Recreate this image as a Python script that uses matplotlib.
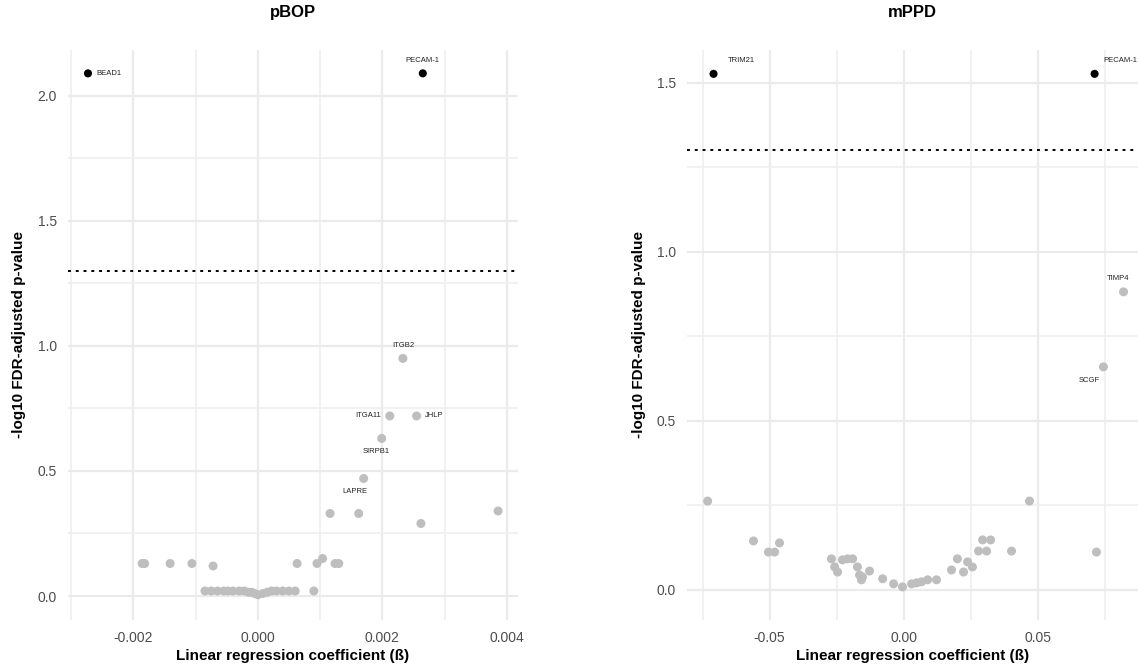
import numpy as np
import matplotlib.pyplot as plt

plt.rcParams['font.family'] = ['Liberation Sans', 'DejaVu Sans']

# pBOP panel
pbop_beta = [-0.00273, 0.00265,
             0.00233, 0.00212, 0.00255, 0.00199, 0.00170,
             0.00116, 0.00162, 0.00262, 0.00386,
             -0.00186, -0.00182, -0.00141, -0.00106, -0.00072, 0.00063, 0.00095,
             0.00104, 0.00124, 0.00130,
             -0.00085, -0.00075, -0.00065, -0.00055, -0.00048, -0.00040, -0.00030,
             -0.00022, -0.00015, -0.00010, -0.00005, 0.00000, 0.00008, 0.00015,
             0.00022, 0.00030, 0.00040, 0.00050, 0.00060, 0.00090]
pbop_logp = [2.09, 2.09,
             0.95, 0.72, 0.72, 0.63, 0.47,
             0.33, 0.33, 0.29, 0.34,
             0.13, 0.13, 0.13, 0.13, 0.12, 0.13, 0.13,
             0.15, 0.13, 0.13,
             0.02, 0.02, 0.02, 0.02, 0.02, 0.02, 0.02,
             0.02, 0.015, 0.015, 0.01, 0.005, 0.01, 0.015,
             0.02, 0.02, 0.02, 0.02, 0.02, 0.02]
pbop_labels = {0: 'BEAD1', 1: 'PECAM-1', 2: 'ITGB2', 3: 'ITGA11',
               4: 'JHLP', 5: 'SIRPB1', 6: 'LAPRE'}

# mPPD panel
mppd_beta = [-0.0709, 0.0713, 0.0821, 0.0746,
             -0.0731, -0.0560, -0.0504, -0.0481, -0.0463, -0.0269, -0.0257,
             -0.0246, -0.0228, -0.0209, -0.0190, -0.0172, -0.0164, -0.0157,
             -0.0153, -0.0127, -0.0078, -0.0037, -0.0004, 0.0030, 0.0049,
             0.0067, 0.0090, 0.0123, 0.0179, 0.0201, 0.0224, 0.0239, 0.0257,
             0.0280, 0.0310, 0.0295, 0.0325, 0.0403, 0.0470, 0.0720]
mppd_logp = [1.527, 1.527, 0.882, 0.660,
             0.263, 0.145, 0.112, 0.112, 0.139, 0.092, 0.068,
             0.053, 0.089, 0.092, 0.092, 0.068, 0.044, 0.030,
             0.038, 0.056, 0.033, 0.018, 0.009, 0.018, 0.021,
             0.024, 0.030, 0.030, 0.059, 0.092, 0.053, 0.083, 0.068,
             0.115, 0.115, 0.148, 0.148, 0.115, 0.263, 0.112]
mppd_labels = {0: 'TRIM21', 1: 'PECAM-1', 2: 'TIMP4', 3: 'SCGF'}

threshold = -np.log10(0.05)

label_offsets_pbop = {0: (6, 0, 'left', 'center'), 1: (0, 7, 'center', 'bottom'),
                      2: (0, 7, 'center', 'bottom'), 3: (-6, 0, 'right', 'center'),
                      4: (6, 0, 'left', 'center'), 5: (-4, -7, 'center', 'top'),
                      6: (-6, -7, 'center', 'top')}
label_offsets_mppd = {0: (10, 7, 'left', 'bottom'), 1: (6, 7, 'left', 'bottom'),
                      2: (-4, 7, 'center', 'bottom'), 3: (-10, -7, 'center', 'top')}

fig = plt.figure(figsize=(11.38, 6.7), dpi=100)
ax1 = fig.add_axes([0.0598, 0.0746, 0.3954, 0.851])
ax2 = fig.add_axes([0.6037, 0.0746, 0.3963, 0.851])


def draw(ax, beta, logp, labels, offsets, title, xticks, xticklabels, xlim, ylim, yticks, yticklabels):
    beta = np.array(beta)
    logp = np.array(logp)
    sig = logp > threshold
    ax.scatter(beta[~sig], logp[~sig], s=42, color='#BEBEBE', edgecolors='none', zorder=3)
    ax.scatter(beta[sig], logp[sig], s=34, color='black', edgecolors='none', zorder=4)
    ax.axhline(threshold, color='black', linestyle=(0, (1.5, 2.5)), linewidth=1.4, zorder=2)
    for i, name in labels.items():
        dx, dy, ha, va = offsets[i]
        ax.annotate(name, (beta[i], logp[i]), xytext=(dx, dy), textcoords='offset points',
                    ha=ha, va=va, fontsize=5.5, color='#222222', zorder=5)
    ax.set_xticks(xticks)
    ax.set_xticklabels(xticklabels)
    ax.set_yticks(yticks)
    ax.set_yticklabels(yticklabels)
    step = xticks[1] - xticks[0]
    ax.set_xticks(np.arange(xticks[0] - 2 * step, xticks[-1] + 2 * step, step / 2), minor=True)
    ax.set_yticks(np.arange(yticks[0] - 0.25, yticks[-1] + 0.5, 0.25), minor=True)
    # limits after ticks, set_ticks widens the view otherwise
    ax.set_xlim(*xlim)
    ax.set_ylim(*ylim)
    ax.grid(True, which='major', color='#EBEBEB', linewidth=1.6)
    ax.grid(True, which='minor', color='#EEEEEE', linewidth=1.1)
    ax.set_axisbelow(True)
    for s in ax.spines.values():
        s.set_visible(False)
    ax.tick_params(which='both', length=0, labelsize=10, colors='#4D4D4D', pad=8)
    ax.set_title(title, fontsize=12, fontweight='bold', pad=24)
    ax.set_xlabel('Linear regression coefficient (ß)', fontsize=11, fontweight='bold', labelpad=3)
    ax.set_ylabel('-log10 FDR-adjusted p-value', fontsize=11, fontweight='bold', labelpad=8)


draw(ax1, pbop_beta, pbop_logp, pbop_labels, label_offsets_pbop, 'pBOP',
     [-0.002, 0.0, 0.002, 0.004], ['-0.002', '0.000', '0.002', '0.004'],
     (-0.00305, 0.00418), (-0.096, 2.184),
     [0.0, 0.5, 1.0, 1.5, 2.0], ['0.0', '0.5', '1.0', '1.5', '2.0'])
draw(ax2, mppd_beta, mppd_logp, mppd_labels, label_offsets_mppd, 'mPPD',
     [-0.05, 0.0, 0.05], ['-0.05', '0.00', '0.05'],
     (-0.0808, 0.0875), (-0.089, 1.598),
     [0.0, 0.5, 1.0, 1.5], ['0.0', '0.5', '1.0', '1.5'])

fig.savefig('out.png', dpi=100)
